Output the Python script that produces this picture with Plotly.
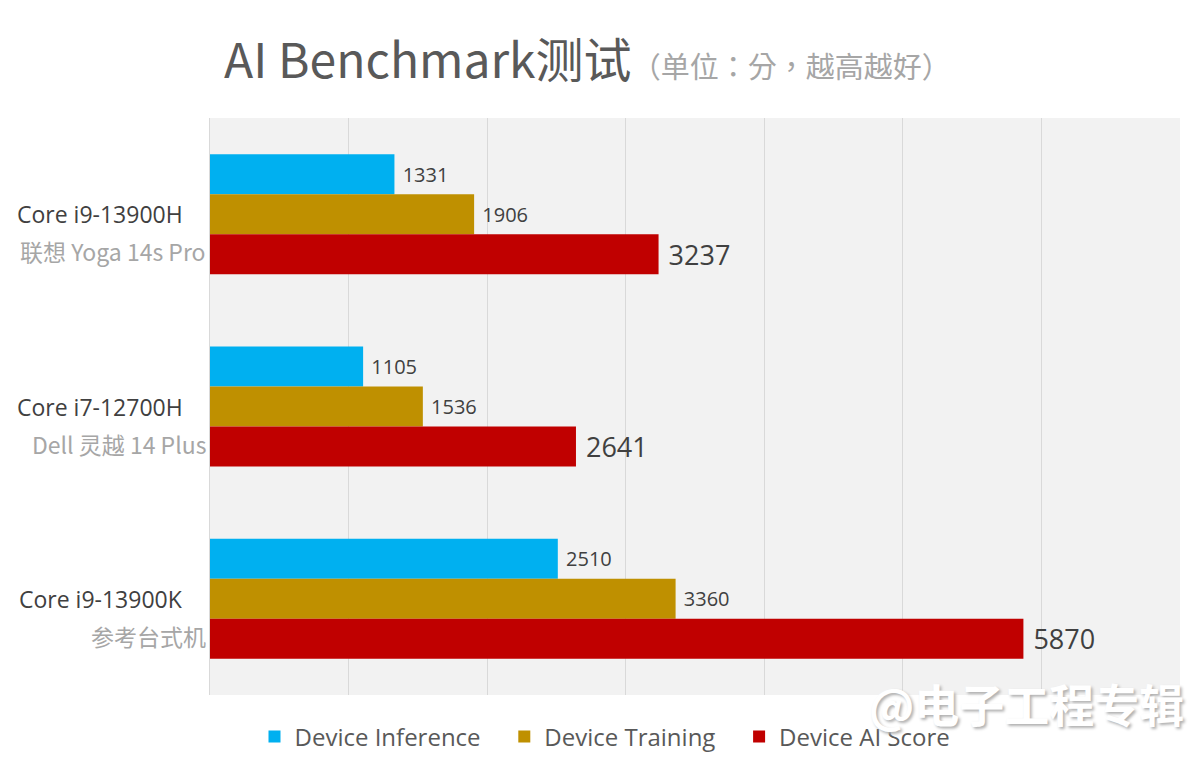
import plotly.graph_objects as go

# dati
categories = ["Core i9-13900H", "Core i7-12700H", "Core i9-13900K"]
devices = ["联想 Yoga 14s Pro", "Dell 灵越 14 Plus", "参考台式机"]
series_names = ["Device Inference", "Device Training", "Device AI Score"]
inference = [1331, 1105, 2510]
training = [1906, 1536, 3360]
ai_score = [3237, 2641, 5870]
x_ticks = [0, 1000, 2000, 3000, 4000, 5000, 6000, 7000]

LATIN = "Open Sans, Noto Sans CJK SC, sans-serif"
CJK = "Noto Sans CJK SC, Open Sans, sans-serif"

# la pagina ha un margine di 8px, quindi si compensa qui
L, R, T, B = 202, 28, 110, 82
W, H = 1200, 769
PW, PH = W - L - R, H - T - B


def px_x(x):
    return (x - 8 - L) / PW


def px_y(y):
    return (H - B - (y - 8)) / PH


fig = go.Figure()

series = [
    (series_names[0], inference, "#00b0f0", 20),
    (series_names[1], training, "#bf9000", 20),
    (series_names[2], ai_score, "#c00000", 27),
]
for i, (name, vals, color, fsize) in enumerate(series):
    # spazi in coda per distanziare le voci della legenda
    label = name + ("\u00a0" * 3 if i < 2 else "")
    fig.add_trace(go.Bar(
        y=categories, x=vals, name=label, orientation="h",
        marker=dict(color=color, line=dict(width=0)),
        text=vals, texttemplate="\u00a0%{x}", textposition="outside",
        textfont=dict(size=fsize, color="#404040", family=LATIN),
        cliponaxis=False,
    ))

# etichette asse y su due righe
for cat, dev in zip(categories, devices):
    fig.add_annotation(x=0, xref="paper", y=cat, yref="y", text=cat,
                       xanchor="right", yanchor="middle", xshift=-25, yshift=0,
                       showarrow=False, font=dict(size=23, color="#404040", family=LATIN))
    fig.add_annotation(x=0, xref="paper", y=cat, yref="y", text=dev,
                       xanchor="right", yanchor="middle", xshift=-2, yshift=-37,
                       showarrow=False, font=dict(size=23, color="#a6a6a6", family=CJK))

# titolo
fig.add_annotation(
    x=px_x(222), xref="paper", y=px_y(57), yref="paper", showarrow=False,
    xanchor="left", yanchor="middle",
    text="AI Benchmark测试<span style='font-size:29px;color:#a6a6a6;"
         "font-family:Noto Sans CJK TC'>（单位：分，越高越好）</span>",
    font=dict(size=48, color="#595959", family=CJK),
)

# watermark
fig.add_annotation(
    x=px_x(1186), xref="paper", y=px_y(703), yref="paper", showarrow=False,
    text="@电子工程专辑", xanchor="right", yanchor="middle",
    font=dict(size=45, color="white", family=CJK, weight="bold", shadow="2px 2px 3px #b0b0b0"),
)

fig.update_layout(
    width=W, height=H,
    margin=dict(l=L, r=R, t=T, b=B),
    paper_bgcolor="white", plot_bgcolor="#f2f2f2",
    barmode="group", bargap=0.376, bargroupgap=0,
    showlegend=True,
    legend=dict(orientation="h", xref="container", x=(605 - 8) / W, xanchor="center",
                yref="container", y=1 - (737 - 8) / H, yanchor="middle",
                font=dict(size=24, color="#595959", family=LATIN),
                itemwidth=30, bgcolor="rgba(0,0,0,0)"),
    xaxis=dict(range=[0, 7000], tickvals=x_ticks, showticklabels=False,
               showgrid=True, gridcolor="#d9d9d9", gridwidth=1, zeroline=False,
               showline=False, fixedrange=True),
    yaxis=dict(autorange="reversed", showticklabels=False, showgrid=False,
               showline=True, linecolor="#d9d9d9", linewidth=1, zeroline=False),
)

fig.write_html("out.html")
